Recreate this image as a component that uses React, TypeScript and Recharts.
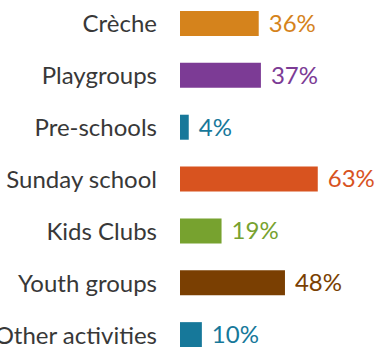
import React from 'react';
import { BarChart, Bar, XAxis, YAxis, Cell, LabelList } from 'recharts';

const categories = ['Crèche', 'Playgroups', 'Pre-schools', 'Sunday school', 'Kids Clubs', 'Youth groups', 'Other activities'];
const values = [36, 37, 4, 63, 19, 48, 10];
const colors = ['#D5831C', '#7C3B95', '#17789A', '#D8531F', '#77A22F', '#7A3F02', '#16789A'];

const data = categories.map((name, i) => ({ name, value: values[i], color: colors[i] }));

const FONT = 'Lato, "Open Sans", sans-serif';
const FS = 24;

const renderLabel = (props: any) => {
  const { x, y, width, height, value, index } = props;
  return (
    <text
      x={Number(x) + Number(width) + 10}
      y={Number(y) + Number(height) / 2}
      dy="0.35em"
      fill={colors[index]}
      fontSize={FS}
      fontFamily={FONT}
      textAnchor="start"
    >
      {`${value}%`}
    </text>
  );
};

export default function App() {
  return (
    <div style={{ position: 'absolute', left: 0, top: -2, width: 379, height: 363, background: '#fff' }}>
      <BarChart
        width={379}
        height={363}
        data={data}
        layout="vertical"
        margin={{ top: 0, right: 0, bottom: 0, left: 0 }}
      >
        <XAxis type="number" domain={[0, 91]} hide />
        <YAxis
          type="category"
          dataKey="name"
          width={180}
          axisLine={false}
          tickLine={false}
          tickSize={0}
          tickMargin={23}
          interval={0}
          tick={{ fill: '#383838', fontSize: FS, fontFamily: FONT }}
        />
        <Bar dataKey="value" barSize={25} isAnimationActive={false}>
          {data.map((d, i) => (
            <Cell key={i} fill={d.color} />
          ))}
          <LabelList dataKey="value" content={renderLabel} />
        </Bar>
      </BarChart>
    </div>
  );
}
